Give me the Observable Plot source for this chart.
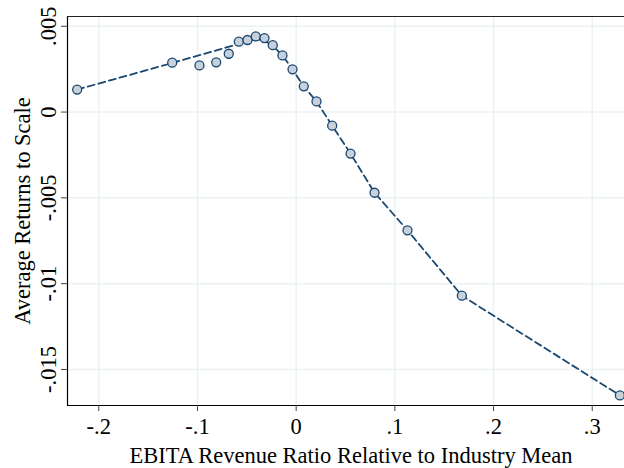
<!DOCTYPE html>
<html>
<head>
<meta charset="utf-8">
<script src="https://cdn.jsdelivr.net/npm/d3@7"></script>
<script src="https://cdn.jsdelivr.net/npm/@observablehq/plot@0.6"></script>
<style>
  html, body { margin: 0; padding: 0; background: #fff; }
  #chart svg { display: block; }
</style>
</head>
<body>
<div id="chart"></div>
<script>
// Binned scatter points
const pointX = [-0.2219, -0.1256, -0.0980, -0.0810, -0.0683, -0.0581, -0.0493, -0.0409, -0.0321, -0.0237,
                -0.0139, -0.0037, 0.0077, 0.0206, 0.0365, 0.0551, 0.0794, 0.1128, 0.1679, 0.3280];
const pointY = [0.00131, 0.00288, 0.00272, 0.00290, 0.00340, 0.00410, 0.00420, 0.00441, 0.00431, 0.00390,
                0.00330, 0.00249, 0.00150, 0.00062, -0.00079, -0.00242, -0.00470, -0.00689, -0.01070, -0.01651];
// Fitted (dashed) line
const lineX = [-0.2219, -0.1256, -0.0409, -0.0321, -0.0237, -0.0139, -0.0037, 0.0077, 0.0206, 0.0365,
               0.0551, 0.0794, 0.1128, 0.1679, 0.3280];
const lineY = [0.00131, 0.00286, 0.00426, 0.00416, 0.00386, 0.00330, 0.00249, 0.00150, 0.00062, -0.00079,
               -0.00242, -0.00470, -0.00689, -0.01070, -0.01651];
// Axes
const xTicks = [-0.2, -0.1, 0, 0.1, 0.2, 0.3];
const yTicks = [0.005, 0, -0.005, -0.01, -0.015];
const xDomain = [-0.2317, 0.3327];
const yDomain = [-0.0171, 0.00557];
const xTitle = "EBITA Revenue Ratio Relative to Industry Mean";
const yTitle = "Average Returns to Scale";

const fmt = d => d === 0 ? "0" : String(d).replace("0.", ".");
const points = pointX.map((x, i) => ({x, y: pointY[i]}));
const fit = lineX.map((x, i) => ({x, y: lineY[i]}));

const navy = "#1a476f";
const grid = "#eaf2f3";
const fs = 22.5;

const chart = Plot.plot({
  width: 624,
  height: 468,
  marginLeft: 67,
  marginRight: 0,
  marginTop: 16,
  marginBottom: 63,
  style: {fontFamily: "'Liberation Serif', 'Times New Roman', serif", fontSize: fs + "px", color: "#000", background: "#fff"},
  x: {domain: xDomain, label: null},
  y: {domain: yDomain, label: null},
  marks: [
    Plot.gridX(xTicks, {stroke: grid, strokeOpacity: 1, strokeWidth: 1.5}),
    Plot.gridY(yTicks, {stroke: grid, strokeOpacity: 1, strokeWidth: 1.5}),
    Plot.ruleX([xDomain[0]], {stroke: "#000", strokeWidth: 1.2}),
    Plot.ruleY([yDomain[0]], {stroke: "#000", strokeWidth: 1.2}),
    Plot.ruleY([yDomain[1]], {stroke: "#222", strokeWidth: 1.2}),
    Plot.axisX({ticks: xTicks, tickSize: 6, tickPadding: 7, tickFormat: fmt, fontSize: fs, stroke: "#444", label: null}),
    Plot.axisY({ticks: yTicks, tickSize: 6, tickFormat: () => "", stroke: "#444", label: null}),
    Plot.text(yTicks, {y: d => d, text: fmt, frameAnchor: "left", dx: -19, rotate: -90,
                       textAnchor: "middle", lineAnchor: "middle", fontSize: fs}),
    Plot.text([yTitle], {frameAnchor: "left", dx: -45, rotate: -90, textAnchor: "middle", lineAnchor: "middle", fontSize: fs}),
    Plot.text([xTitle], {frameAnchor: "bottom", dy: 50, dx: 5, textAnchor: "middle", lineAnchor: "middle", fontSize: fs}),
    Plot.line(fit, {x: "x", y: "y", stroke: navy, strokeWidth: 1.8, strokeDasharray: "7,4"}),
    Plot.dot(points, {x: "x", y: "y", r: 4.5, fill: "#c6d1dc", stroke: navy, strokeWidth: 1.3})
  ]
});
document.getElementById("chart").appendChild(chart);
</script>
</body>
</html>
